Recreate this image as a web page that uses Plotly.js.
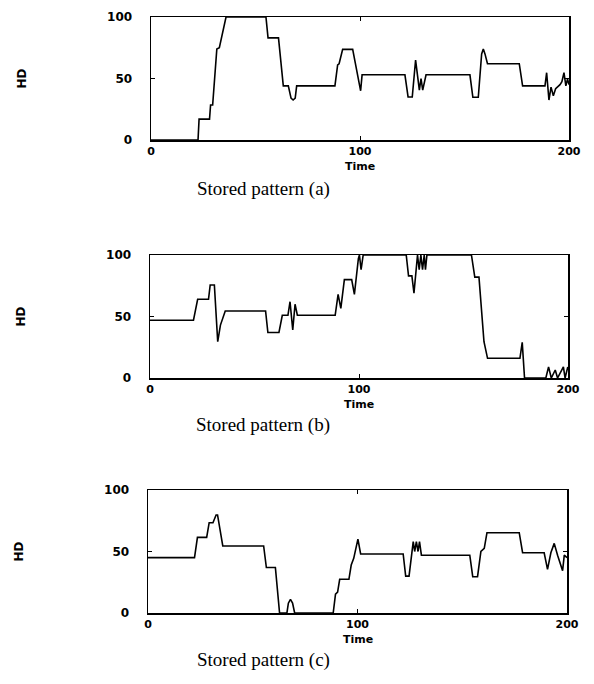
<!DOCTYPE html>
<html>
<head>
<meta charset="utf-8">
<script src="https://cdn.plot.ly/plotly-3.0.1.min.js"></script>
<style>html,body{margin:0;padding:0;background:#fff;}#chart{width:594px;height:684px;}</style>
</head>
<body>
<div id="chart"></div>
<script>
// Panel (a)
var timeA = [0,22.5,23,28,28.5,29.5,31.5,32.7,35.9,55,56,61,63.3,65.7,67,68,69,69.7,88,89.3,90,91.7,96.5,97.8,100.3,101,121.5,123,125,126.6,128.4,129.2,130,131.6,152.6,154,156.6,158.2,159,159.8,161,176.2,177.8,188.5,189.3,190.4,191.4,192.5,193.6,195.7,196.6,197.6,198.5,199.3,200];
var hdA   = [0,0,17,17,28.5,28.5,74,75,100,100,83,83,44,44,34,32.5,34,44,44,61,62,73.7,73.7,61,40,53,53,35,35,65,40.6,50,40.6,53,53,34.7,34.7,70,74,70,62,62,44,44,54.7,32.5,43,36,41.7,45,47.4,54.7,44,49.6,45];
// Panel (b)
var timeB = [0,20.8,22.8,28,28.8,30.8,32.4,33.7,36,55.3,56.4,61.7,63.3,66,67,68.3,69.4,70.5,88.6,90,91.3,93,96.5,97.8,99.7,100.2,101,102,122.6,123.7,125.3,126.3,128,128.8,129.6,130.4,131.2,131.8,132.5,153.8,155.4,157.4,159.8,161.5,177,178.1,179.2,189.4,190.7,192,193.9,195,197.8,198.6,199.9];
var hdB   = [47,47,64,64,75.6,75.6,29.5,43,54.5,54.5,37,37,51,51,62,39,60,51,51,68,56.6,80,80,68,97,100,88,100,100,83,83,69,100,88,100,88,100,88,100,100,82,82,29.5,16,16,29,0,0,9,0,6.5,0,9,0,9];
// Panel (c)
var timeC = [0,22.2,23.6,28,29.2,31,32.5,33.2,35.7,55.2,56.5,60.8,62.8,66.3,67,68,69,70,88.4,89.5,90.5,91.5,95.9,97,98.2,99,100.2,101.5,121.8,123,124.6,126.6,127.3,128.1,128.9,129.6,130.5,153.6,155,157.3,158.9,160.5,161.8,177.2,178.8,189.1,190.7,192.3,193.9,195.5,197.9,198.7,200];
var hdC   = [45,45,61.5,61.5,73.4,73.4,79.7,79.7,54.5,54.5,37,37,0,0,8,11,8,0,0,15.4,17,27.4,27.4,39,44.4,50,60,48,48,30,30,58,50,58,50,58,47,47,29.5,29.5,50,52.6,65.3,65.3,49,49,35.5,49,56.6,47,34.4,47,45];

var xTicks = [0, 100, 200];
var yTicks = [0, 50, 100];
var xTickText = ['0', '100', '200'];
var yTickText = ['0', '50', '100'];
var captions = ['Stored pattern (a)', 'Stored pattern (b)', 'Stored pattern (c)'];
var xTitle = 'Time';
var yTitle = 'HD';

var W = 594, H = 684;
function px(x){return x / W;}
function py(y){return 1 - y / H;}

var tickFont = {family: 'DejaVu Sans', size: 12, color: '#000', weight: 'bold'};
var xTickFont = {family: 'DejaVu Sans', size: 11, color: '#000', weight: 'bold'};
function xax(l, r, anchor){
  return {domain:[px(l), px(r)], range:[0,200], tickvals:xTicks, ticktext:xTickText, anchor:anchor,
    showgrid:false, zeroline:false, showline:true, linecolor:'#000', linewidth:1.5, mirror:'ticks',
    ticks:'inside', ticklen:4, tickwidth:1, tickcolor:'#000', tickfont:xTickFont, ticklabelstandoff:0,
    fixedrange:true};
}
function yax(t, b, anchor){
  return {domain:[py(b), py(t)], range:[0,100], tickvals:yTicks, ticktext:yTickText, anchor:anchor,
    showgrid:false, zeroline:false, showline:true, linecolor:'#000', linewidth:1.5, mirror:'ticks',
    ticks:'inside', ticklen:4, tickwidth:1, tickcolor:'#000', tickfont:tickFont, ticklabelstandoff:15,
    title:{text:yTitle, font:{family:'DejaVu Sans', size:12, color:'#000', weight:'bold'}, standoff:78}, fixedrange:true};
}

var lineStyle = {color:'#000', width:1.6};
var data = [
  {x:timeA, y:hdA, xaxis:'x', yaxis:'y', mode:'lines', line:lineStyle, cliponaxis:false, showlegend:false},
  {x:timeB, y:hdB, xaxis:'x2', yaxis:'y2', mode:'lines', line:lineStyle, cliponaxis:false, showlegend:false},
  {x:timeC, y:hdC, xaxis:'x3', yaxis:'y3', mode:'lines', line:lineStyle, cliponaxis:false, showlegend:false}
];

var capFont = {family:'Liberation Serif', size:19, color:'#000'};
function cap(i, y){
  return {text:captions[i], xref:'paper', yref:'paper', x:px(263), y:py(y), xanchor:'center', yanchor:'middle', showarrow:false, font:capFont};
}
function timeLabel(xref, y){
  return {text:xTitle, xref:xref, yref:'paper', x:100, y:py(y), xanchor:'center', yanchor:'middle', showarrow:false, font:xTickFont};
}
var layout = {
  width:W, height:H, margin:{l:0,r:0,t:0,b:0},
  paper_bgcolor:'#fff', plot_bgcolor:'#fff',
  xaxis: xax(151,569,'y'),
  yaxis: yax(17,140,'x'),
  xaxis2: xax(150,568,'y2'),
  yaxis2: yax(255,378,'x2'),
  xaxis3: xax(148,567,'y3'),
  yaxis3: yax(490,613,'x3'),
  annotations: [
    cap(0,189), cap(1,425), cap(2,660),
    timeLabel('x',166), timeLabel('x2',404), timeLabel('x3',639)
  ]
};
Plotly.newPlot('chart', data, layout, {staticPlot:true, displayModeBar:false});
</script>
</body>
</html>
